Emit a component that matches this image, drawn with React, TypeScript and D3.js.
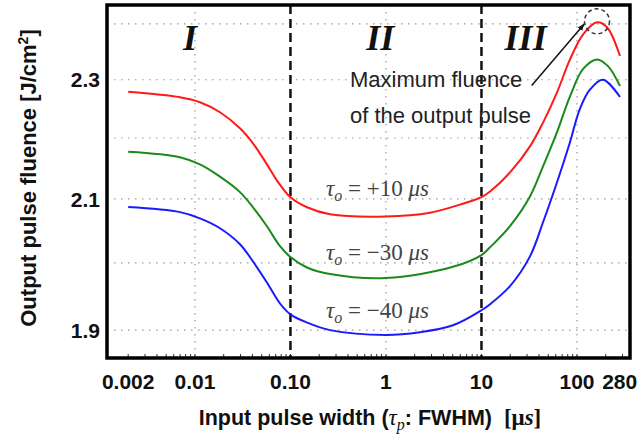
import { useEffect, useRef } from "react";
import * as d3 from "d3";

// pulse width [us] / output fluence [J/cm2]
const redWidth = [0.002, 0.00697, 0.01128, 0.01828, 0.0296, 0.0405, 0.0567, 0.0723, 0.1, 0.149, 0.259, 1, 2.89, 5.96, 10, 12.3, 19.9, 32.2, 44.1, 61.8, 84.5, 116, 162, 206, 282];
const redFluence = [2.279, 2.2695, 2.2609, 2.2437, 2.2164, 2.1911, 2.1562, 2.1297, 2.1027, 2.0867, 2.0756, 2.072, 2.078, 2.091, 2.103, 2.112, 2.143, 2.186, 2.226, 2.278, 2.336, 2.381, 2.403, 2.394, 2.342];

const greenWidth = [0.002, 0.00697, 0.01128, 0.01828, 0.0296, 0.0405, 0.0567, 0.0777, 0.1, 0.149, 0.259, 1, 5.03, 10, 12.3, 19.9, 32.2, 44.1, 61.8, 84.5, 116, 162, 211, 282];
const greenFluence = [2.177, 2.168, 2.156, 2.136, 2.111, 2.0867, 2.0567, 2.0256, 2.009, 1.993, 1.983, 1.977, 1.994, 2.012, 2.024, 2.057, 2.104, 2.153, 2.21, 2.271, 2.319, 2.336, 2.324, 2.289];

const blueWidth = [0.002, 0.00697, 0.01128, 0.01828, 0.0296, 0.0405, 0.0567, 0.0777, 0.1, 0.149, 0.259, 1, 2.27, 5.03, 10, 12.3, 19.9, 32.2, 44.1, 61.8, 84.5, 107, 137, 187, 282];
const blueFluence = [2.087, 2.079, 2.0692, 2.0536, 2.0287, 2.0022, 1.9703, 1.939, 1.923, 1.911, 1.9, 1.893, 1.897, 1.907, 1.929, 1.938, 1.965, 2.01, 2.063, 2.127, 2.193, 2.249, 2.283, 2.3, 2.27];

const widthTicks = [0.002, 0.01, 0.1, 1, 10, 100, 280];
const widthTickLabels = ["0.002", "0.01", "0.10", "1", "10", "100", "280"];
const fluenceTicks = [1.9, 2.1, 2.3];
const fluenceGrid = [1.9, 2.0, 2.1, 2.2, 2.3, 2.4];
const widthGrid = [0.01, 0.1, 1, 10, 100];
const regionBounds = [0.1, 10];
const regionNames = ["I", "II", "III"];
const delayLabels = ["+10", "\u221230", "\u221240"];

export default function App() {
  const svgRef = useRef<SVGSVGElement>(null);

  useEffect(() => {
    const el = svgRef.current!;
    const W = 644, H = 440;
    const m = { top: 5, right: 14, bottom: 82, left: 107 };
    const iW = W - m.left - m.right;
    const iH = H - m.top - m.bottom;

    d3.select(el).selectAll("*").remove();
    const svg = d3.select(el).attr("viewBox", `0 0 ${W} ${H}`);
    const g = svg.append("g").attr("transform", `translate(${m.left},${m.top})`);

    const x = d3.scaleLog().domain([0.0012, 359]).range([0, iW]);
    const y = d3.scaleLog().domain([1.86, 2.435]).range([iH, 0]);

    const sans = "'Liberation Sans', Arial, sans-serif";
    const serif = "'Liberation Serif', 'Times New Roman', serif";

    // grid
    g.selectAll(".hg").data(fluenceGrid).join("line")
      .attr("x1", 0).attr("x2", iW).attr("y1", d => y(d)).attr("y2", d => y(d))
      .attr("stroke", "#999").attr("stroke-width", 1.2).attr("stroke-dasharray", "1.5,5.5");
    g.selectAll(".vg").data(widthGrid).join("line")
      .attr("x1", d => x(d)).attr("x2", d => x(d)).attr("y1", 0).attr("y2", iH)
      .attr("stroke", "#999").attr("stroke-width", 1.2).attr("stroke-dasharray", "1.5,5.5");

    // minor ticks (inside, bottom)
    const minor: number[] = [];
    for (let e = -3; e <= 2; e++) for (let k = 1; k <= 9; k++) {
      const v = k * Math.pow(10, e);
      if (v > 0.0012 && v < 359) minor.push(v);
    }
    g.selectAll(".mt").data(minor).join("line")
      .attr("x1", d => x(d)).attr("x2", d => x(d)).attr("y1", iH).attr("y2", iH - 4)
      .attr("stroke", "#333").attr("stroke-width", 1);

    // region boundaries
    g.selectAll(".rb").data(regionBounds).join("line")
      .attr("x1", d => x(d)).attr("x2", d => x(d)).attr("y1", 0).attr("y2", iH)
      .attr("stroke", "#111").attr("stroke-width", 2.5).attr("stroke-dasharray", "9,5");

    // region labels
    const regionAt = [0.0089, 0.87, 29];
    g.selectAll(".rn").data(regionNames).join("text")
      .attr("x", (d, i) => x(regionAt[i])).attr("y", 45)
      .attr("text-anchor", "middle")
      .attr("font-family", serif).attr("font-style", "italic").attr("font-weight", "bold")
      .attr("font-size", 36).attr("fill", "#111")
      .text(d => d);

    // curves
    const series = [
      { w: redWidth, f: redFluence, color: "#ff1a1a" },
      { w: greenWidth, f: greenFluence, color: "#1a8a1a" },
      { w: blueWidth, f: blueFluence, color: "#1a1aff" },
    ];
    const line = d3.line<[number, number]>()
      .x(d => x(d[0])).y(d => y(d[1])).curve(d3.curveCatmullRom.alpha(0.5));
    series.forEach(s => {
      const pts = s.w.map((w, i) => [w, s.f[i]] as [number, number]);
      g.append("path").datum(pts)
        .attr("fill", "none").attr("stroke", s.color).attr("stroke-width", 2).attr("d", line);
    });

    // delay labels
    const labelY = [2.105, 2.0046, 1.9175];
    delayLabels.forEach((lab, i) => {
      const t = g.append("text")
        .attr("x", x(1) - 60).attr("y", y(labelY[i]))
        .attr("font-family", serif).attr("font-size", 23).attr("fill", "#444");
      t.append("tspan").attr("font-style", "italic").text("\u03c4");
      t.append("tspan").attr("font-style", "italic").attr("font-size", 16).attr("dy", 5).text("o");
      t.append("tspan").attr("dy", -5).text(` = ${lab} `);
      t.append("tspan").attr("font-style", "italic").text("\u03bcs");
    });

    // peak annotation
    const peakIdx = d3.maxIndex(redFluence);
    const px = x(redWidth[peakIdx]), py = y(redFluence[peakIdx]);
    g.append("circle").attr("cx", px).attr("cy", py - 1).attr("r", 12.5)
      .attr("fill", "none").attr("stroke", "#333").attr("stroke-width", 1.5).attr("stroke-dasharray", "4,3");
    const defs = svg.append("defs");
    defs.append("marker").attr("id", "ah").attr("viewBox", "0 0 10 10")
      .attr("refX", 9).attr("refY", 5).attr("markerWidth", 7).attr("markerHeight", 7)
      .attr("orient", "auto").attr("markerUnits", "userSpaceOnUse")
      .append("path").attr("d", "M0,1 L10,5 L0,9 z").attr("fill", "#111");
    g.append("line")
      .attr("x1", x(32) + 2).attr("y1", y(2.29))
      .attr("x2", px - 13).attr("y2", py + 2)
      .attr("stroke", "#111").attr("stroke-width", 1.5).attr("marker-end", "url(#ah)");
    const note = g.append("text").attr("font-family", sans).attr("font-size", 22).attr("fill", "#222");
    note.append("tspan").attr("x", x(0.42)).attr("y", y(2.288)).text("Maximum fluence");
    note.append("tspan").attr("x", x(0.42)).attr("y", y(2.226)).text("of the output pulse");

    // frame
    g.append("rect").attr("x", 0).attr("y", 0).attr("width", iW).attr("height", iH)
      .attr("fill", "none").attr("stroke", "#000").attr("stroke-width", 3.5);

    // tick labels
    g.selectAll(".xl").data(widthTicks).join("text")
      .attr("x", d => x(d)).attr("y", iH + 31)
      .attr("text-anchor", "middle").attr("font-family", sans).attr("font-weight", "bold")
      .attr("font-size", 21).attr("fill", "#111")
      .text((d, i) => widthTickLabels[i]);
    g.selectAll(".yl").data(fluenceTicks).join("text")
      .attr("x", -7).attr("y", d => y(d)).attr("dy", "0.36em")
      .attr("text-anchor", "end").attr("font-family", sans).attr("font-weight", "bold")
      .attr("font-size", 21).attr("fill", "#111")
      .text(d => d.toFixed(1));

    // axis titles
    const xt = svg.append("text").attr("x", 370).attr("y", 425).attr("text-anchor", "middle")
      .attr("font-family", sans).attr("font-weight", "bold").attr("font-size", 21.5).attr("fill", "#111");
    xt.append("tspan").text("Input pulse width (");
    xt.append("tspan").attr("font-family", serif).attr("font-style", "italic").attr("font-weight", "normal").attr("font-size", 23).text("\u03c4");
    xt.append("tspan").attr("font-family", serif).attr("font-style", "italic").attr("font-weight", "normal").attr("font-size", 16).attr("dy", 5).text("p");
    xt.append("tspan").attr("dy", -5).text(": FWHM)\u00a0\u00a0");
    xt.append("tspan").attr("font-family", serif).attr("font-size", 23).text("[\u03bc");
    xt.append("tspan").attr("font-family", serif).attr("font-style", "italic").attr("font-size", 23).text("s");
    xt.append("tspan").attr("font-family", serif).attr("font-size", 23).text("]");

    const yt = svg.append("text").attr("transform", "translate(36,178) rotate(-90)")
      .attr("text-anchor", "middle").attr("font-family", sans).attr("font-weight", "bold")
      .attr("font-size", 22).attr("fill", "#111");
    yt.append("tspan").text("Output pulse fluence [J/cm");
    yt.append("tspan").attr("font-size", 14).attr("dy", -8).text("2");
    yt.append("tspan").attr("dy", 8).text("]");
  }, []);

  return (
    <svg ref={svgRef} width={644} height={440}
      style={{ position: "absolute", left: 0, top: 0, background: "#fff" }} />
  );
}
